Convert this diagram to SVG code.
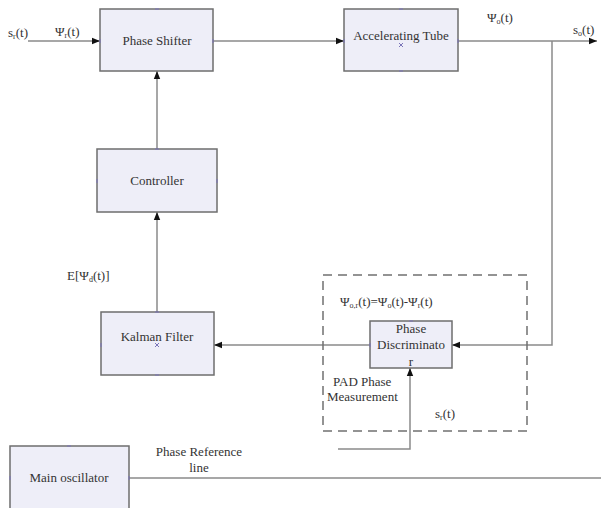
<svg xmlns="http://www.w3.org/2000/svg" width="601" height="508" viewBox="0 0 601 508">
<style>
.box{fill:#eeeef8;stroke:#6e6e6e;stroke-width:1.5}
.ln{fill:none;stroke:#8a8a8a;stroke-width:1.5}
.dash{fill:none;stroke:#707070;stroke-width:1.5;stroke-dasharray:9,6}
text{font-family:"Liberation Serif","DejaVu Serif",serif;font-size:13px;fill:#333}
.c{text-anchor:middle}
.s{font-size:8px}
.pt{stroke:#7a74b8;stroke-width:1;fill:none}
</style>
<defs>
<marker id="arr" viewBox="0 0 10 10" refX="10" refY="5" markerWidth="8" markerHeight="8" markerUnits="userSpaceOnUse" orient="auto">
<path d="M0,1 L10,5 L0,9 z" fill="#111"/>
</marker>
</defs>
<rect width="601" height="508" fill="#fff"/>
<g id="connectors">
<path class="ln" d="M28,41 H100" marker-end="url(#arr)"/>
<path class="ln" d="M213,41 H344" marker-end="url(#arr)"/>
<path class="ln" d="M458,41 H597" marker-end="url(#arr)"/>
<path class="ln" d="M552,41 V345 H452" marker-end="url(#arr)"/>
<path class="ln" d="M370,345 H214" marker-end="url(#arr)"/>
<path class="ln" d="M157,312 V212" marker-end="url(#arr)"/>
<path class="ln" d="M157,149 V71" marker-end="url(#arr)"/>
<path class="ln" d="M338,449 H410 V368" marker-end="url(#arr)"/>
<path class="ln" d="M129,478 H601"/>
</g>
<g id="pad-group">
<rect class="dash" x="323" y="275" width="204" height="156"/>
</g>
<g id="phase-shifter">
<rect class="box" x="100" y="9" width="113" height="62"/>
<text class="c" x="157" y="45">Phase Shifter</text>
<path class="pt" d="M155,9 h4 M100,39 v4 M213,39 v4"/>
</g>
<g id="accelerating-tube">
<rect class="box" x="344" y="9" width="114" height="62"/>
<text class="c" x="401" y="40">Accelerating Tube</text>
<path class="pt" d="M399,9 h4 M399,71 h4 M344,39 v4 M458,39 v4 M399,43 l4,4 M403,43 l-4,4"/>
</g>
<g id="controller">
<rect class="box" x="97" y="149" width="120" height="63"/>
<text class="c" x="157" y="185">Controller</text>
<path class="pt" d="M155,149 h4 M97,179 v4 M217,179 v4"/>
</g>
<g id="kalman-filter">
<rect class="box" x="101" y="312" width="113" height="63"/>
<text class="c" x="157" y="341">Kalman Filter</text>
<path class="pt" d="M155,312 h4 M155,375 h4 M101,343 v4 M155,343 l4,4 M159,343 l-4,4"/>
</g>
<g id="phase-discriminator">
<rect class="box" x="370" y="321" width="82" height="47"/>
<text class="c" x="411" y="333">Phase</text>
<text class="c" x="411" y="349">Discriminato</text>
<text class="c" x="411" y="366">r</text>
<path class="pt" d="M409,321 h4 M370,343 v4"/>
</g>
<g id="main-oscillator">
<rect class="box" x="10" y="446" width="119" height="66"/>
<text class="c" x="69" y="482">Main oscillator</text>
<path class="pt" d="M67,446 h4 M10,476 v4 M129,476 v4"/>
</g>
<g id="labels">
<text x="8" y="37">s<tspan class="s" dy="2">r</tspan><tspan dy="-2">(t)</tspan></text>
<text x="55" y="36">Ψ<tspan class="s" dy="2">r</tspan><tspan dy="-2">(t)</tspan></text>
<text x="487" y="22">Ψ<tspan class="s" dy="2">o</tspan><tspan dy="-2">(t)</tspan></text>
<text x="573" y="34">s<tspan class="s" dy="2">o</tspan><tspan dy="-2">(t)</tspan></text>
<text x="67" y="280">E[Ψ<tspan class="s" dy="2">d</tspan><tspan dy="-2">(t)]</tspan></text>
<text x="340" y="306">Ψ<tspan class="s" dy="2">o,r</tspan><tspan dy="-2">(t)=Ψ</tspan><tspan class="s" dy="2">o</tspan><tspan dy="-2">(t)-Ψ</tspan><tspan class="s" dy="2">r</tspan><tspan dy="-2">(t)</tspan></text>
<text x="333" y="386">PAD Phase</text>
<text x="327" y="401">Measurement</text>
<text x="435" y="418">s<tspan class="s" dy="2">r</tspan><tspan dy="-2">(t)</tspan></text>
<text class="c" x="199" y="456">Phase Reference</text>
<text class="c" x="199" y="472">line</text>
</g>
</svg>
